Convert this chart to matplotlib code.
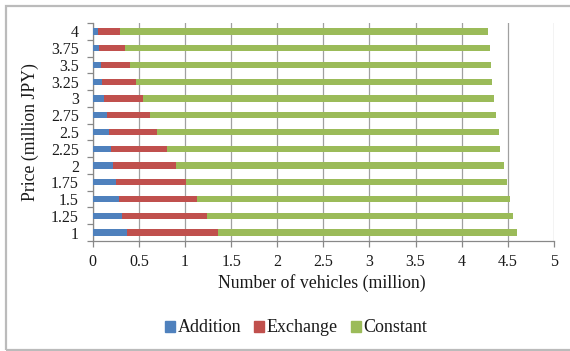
import matplotlib
matplotlib.use("Agg")
import matplotlib.pyplot as plt
from matplotlib.patches import Rectangle, Patch
import numpy as np

prices = ["1", "1.25", "1.5", "1.75", "2", "2.25", "2.5", "2.75", "3", "3.25", "3.5", "3.75", "4"]
addition = [0.37, 0.32, 0.29, 0.255, 0.225, 0.20, 0.175, 0.15, 0.12, 0.10, 0.09, 0.07, 0.056]
exchange = [0.99, 0.92, 0.84, 0.755, 0.675, 0.60, 0.525, 0.47, 0.43, 0.37, 0.31, 0.28, 0.244]
constant = [3.24, 3.32, 3.39, 3.48, 3.56, 3.62, 3.70, 3.75, 3.80, 3.86, 3.92, 3.96, 3.99]
x_ticks = [0, 0.5, 1, 1.5, 2, 2.5, 3, 3.5, 4, 4.5, 5]
x_tick_labels = ["0", "0.5", "1", "1.5", "2", "2.5", "3", "3.5", "4", "4.5", "5"]

c_add = "#4F81BD"
c_exc = "#C0504D"
c_con = "#9BBB59"
text_c = "#1a1a1a"

plt.rcParams["font.family"] = ["Liberation Serif", "DejaVu Serif"]

W, H = 570, 351
fig = plt.figure(figsize=(W / 100, H / 100), dpi=100)
fig.patch.set_facecolor("white")

# chart-area frame
fig.patches.append(Rectangle((6 / W, 1 - 350 / H), 1.2, (350 - 6) / H,
                             transform=fig.transFigure, fill=False,
                             edgecolor="#BBBBBB", linewidth=1.6))

left, right, top, bottom = 92.7, 554, 23, 241
ax = fig.add_axes([left / W, 1 - bottom / H, (right - left) / W, (bottom - top) / H])

y = np.arange(len(prices))
add = np.array(addition)
exc = np.array(exchange)
con = np.array(constant)
bh = 0.38
ax.barh(y, add, height=bh, color=c_add, zorder=3)
ax.barh(y, exc, left=add, height=bh, color=c_exc, zorder=3)
ax.barh(y, con, left=add + exc, height=bh, color=c_con, zorder=3)

ax.set_xlim(0, 5)
ax.set_ylim(-0.5, len(prices) - 0.5)
ax.set_xticks(x_ticks)
ax.set_xticklabels(x_tick_labels)
ax.set_yticks(y)
ax.set_yticklabels(prices)
ax.set_yticks(np.arange(-0.5, len(prices), 1.0), minor=True)
ax.tick_params(axis="y", which="major", length=0, pad=10, labelsize=11.5, labelcolor=text_c)
ax.tick_params(axis="y", which="minor", length=4, width=0.9, color="#888888")
ax.tick_params(axis="x", which="major", length=4, width=0.9, color="#888888",
               pad=5, labelsize=11.5, labelcolor=text_c)

ax.grid(axis="x", color="#A0A0A0", linewidth=0.9, zorder=0)
ax.set_axisbelow(True)
for s in ["top", "right"]:
    ax.spines[s].set_visible(False)
for s in ["left", "bottom"]:
    ax.spines[s].set_color("#888888")
    ax.spines[s].set_linewidth(0.9)

ax.set_xlabel("Number of vehicles (million)", fontsize=12.8, color=text_c)
ax.set_ylabel("Price (million JPY)", fontsize=12.8, color=text_c)
ax.xaxis.set_label_coords((322 - left) / (right - left), -(283 - bottom) / (bottom - top))
ax.yaxis.set_label_coords((30 - left) / (right - left), 0.5)
ax.xaxis.label.set_va("center")
ax.yaxis.label.set_va("center")

handles = [Patch(color=c_add, label="Addition"),
           Patch(color=c_exc, label="Exchange"),
           Patch(color=c_con, label="Constant")]
fig.legend(handles=handles, loc="center", bbox_to_anchor=(296 / W, 1 - 328 / H),
           ncol=3, frameon=False, fontsize=13, handlelength=0.55, handleheight=0.55,
           handletextpad=0.15, columnspacing=0.72, labelcolor=text_c)

fig.savefig("out.png", dpi=100, facecolor="white")
